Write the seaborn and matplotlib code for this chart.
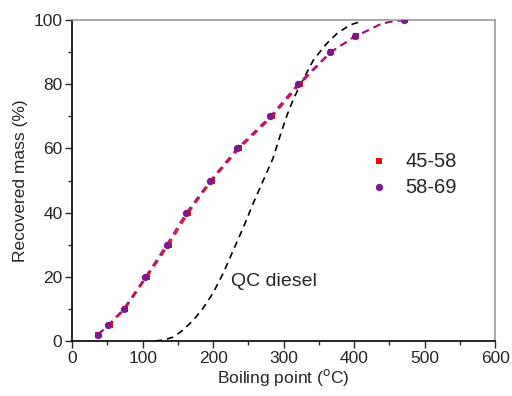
import matplotlib
matplotlib.use("Agg")
import matplotlib.pyplot as plt
import pandas as pd
import seaborn as sns
from matplotlib.ticker import MultipleLocator

# recovered mass fractions (%)
recovered = [2, 5, 10, 20, 30, 40, 50, 60, 70, 80, 90, 95, 100]
bp_45_58 = [37, 53, 75, 106, 137, 165, 198, 237, 284, 323, 367, 402, 472]
bp_58_69 = [36, 51, 73, 104, 134, 162, 196, 234, 281, 320, 366, 401, 471]

# dashed fit through the points
fit_mass = [2, 5, 10, 20, 30, 40, 50, 60, 70, 80, 90, 95, 97.1, 98.8, 99.7, 100]
fit_a_bp = [37, 53, 75, 106, 137, 165, 198, 237, 284, 323, 367, 402, 423, 438, 456, 472]
fit_b_bp = [36, 51, 73, 104, 134, 162, 196, 234, 281, 320, 366, 401, 422, 437, 455, 471]

# QC diesel reference curve
qc_bp = [118, 130, 143, 155, 172, 185, 200, 214, 228, 243, 257, 271, 285, 295,
         305, 314, 323, 342, 361, 376, 394, 408]
qc_mass = [0, 0.3, 1.2, 3, 6.5, 10, 15, 21, 28, 35.5, 43, 50, 57, 64,
           70.5, 75.5, 79.5, 87.5, 92.7, 95.9, 98.5, 99.5]

sns.set_style("ticks")
plt.rcParams['font.family'] = ['Liberation Sans', 'DejaVu Sans']

df_a = pd.DataFrame({"bp": bp_45_58, "mass": recovered})
df_b = pd.DataFrame({"bp": bp_58_69, "mass": recovered})
fit_a = pd.DataFrame({"bp": fit_a_bp, "mass": fit_mass})
fit_b = pd.DataFrame({"bp": fit_b_bp, "mass": fit_mass})
df_qc = pd.DataFrame({"bp": qc_bp, "mass": qc_mass})

fig = plt.figure(figsize=(5.12, 3.96), dpi=100)
ax = fig.add_axes([0.141, 0.139, 0.826, 0.81])

dash = (0, (4, 3))
sns.lineplot(data=df_qc, x="bp", y="mass", ax=ax, color="black", lw=1.2,
             linestyle=dash, sort=False)
sns.lineplot(data=fit_a, x="bp", y="mass", ax=ax, color="red", lw=1.3,
             linestyle=dash, sort=False)
sns.lineplot(data=fit_b, x="bp", y="mass", ax=ax, color="#8b1a9a", lw=1.3,
             linestyle=dash, sort=False)
sns.scatterplot(data=df_a, x="bp", y="mass", ax=ax, color="red", marker="s",
                s=24, linewidth=0, label="45-58", zorder=3)
sns.scatterplot(data=df_b, x="bp", y="mass", ax=ax, color="#7a1a8c", marker="o",
                s=28, linewidth=0, label="58-69", zorder=4)

ax.set_xlim(0, 600)
ax.set_ylim(0, 100)
ax.xaxis.set_major_locator(MultipleLocator(100))
ax.xaxis.set_minor_locator(MultipleLocator(50))
ax.yaxis.set_major_locator(MultipleLocator(20))
ax.yaxis.set_minor_locator(MultipleLocator(10))
ax.tick_params(which="major", length=5, width=1, labelsize=12.5, pad=2)
ax.tick_params(which="minor", length=3, width=1)
for side in ["left", "bottom"]:
    ax.spines[side].set_color("black")
    ax.spines[side].set_linewidth(1.2)
for side in ["top", "right"]:
    ax.spines[side].set_color("#999999")
    ax.spines[side].set_linewidth(1.2)

ax.set_xlabel("Boiling point ($^{\\rm o}$C)", fontsize=12.5, labelpad=1)
ax.set_ylabel("Recovered mass (%)", fontsize=12.5, labelpad=4)
ax.text(226, 18.5, "QC diesel", fontsize=14, va="center")

ax.legend(loc="center left", bbox_to_anchor=(0.645, 0.52), frameon=False,
          fontsize=14.5, handletextpad=0.5, handlelength=1.6,
          markerscale=1.0, labelspacing=0.35)

fig.savefig("out.png", dpi=100)
